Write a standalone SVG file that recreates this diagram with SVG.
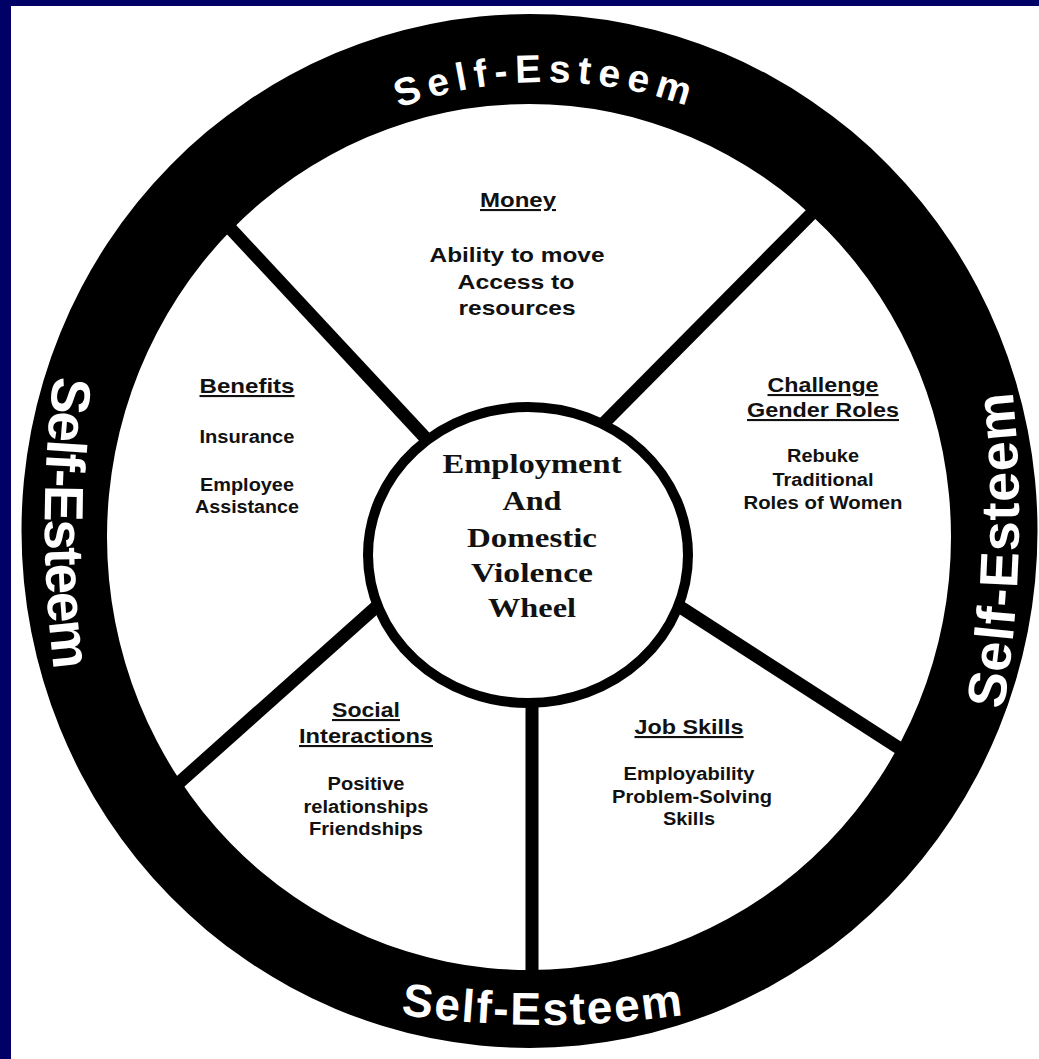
<svg xmlns="http://www.w3.org/2000/svg" width="1039" height="1059" viewBox="0 0 1039 1059">
  <style>
    .head { font-family: "Liberation Sans", Arial, sans-serif; font-weight: bold; font-size: 21px; fill: #111; text-anchor: middle; text-decoration: underline; }
    .item { font-family: "Liberation Sans", Arial, sans-serif; font-weight: bold; font-size: 18px; fill: #111; text-anchor: middle; }
    .big { font-size: 21px; }
    .hub { font-family: "Liberation Serif", "Times New Roman", serif; font-weight: bold; font-size: 28px; fill: #111; text-anchor: middle; }
    .rim { font-family: "Liberation Sans", Arial, sans-serif; font-weight: bold; fill: #fff; text-anchor: middle; }
    .spoke { stroke: #000; stroke-width: 13; stroke-linecap: butt; fill: none; }
  </style>
  <defs>
    <path id="arcTop" d="M 242 208 A 430 430 0 0 1 850 208"/>
    <path id="arcBottom" d="M 335 1003 A 1000 1000 0 0 0 751 1003"/>
    <path id="arcLeft" d="M 63 314 A 1200 1200 0 0 0 63 730"/>
    <path id="arcRight" d="M 994 760 A 1200 1200 0 0 0 1006 340"/>
  </defs>

  <!-- page frame -->
  <rect x="0" y="0" width="1039" height="1059" fill="#000066"/>
  <rect x="11" y="6" width="1028" height="1053" fill="#fff"/>

  <!-- spokes between hub and rim -->
  <g id="connectors">
    <line class="spoke" x1="216" y1="213" x2="432" y2="445"/>
    <line class="spoke" x1="830" y1="195" x2="603" y2="424"/>
    <line class="spoke" x1="144" y1="814" x2="385" y2="599"/>
    <line class="spoke" x1="532" y1="690" x2="532" y2="995"/>
    <line class="spoke" x1="916" y1="759" x2="671" y2="601"/>
  </g>

  <!-- outer rim -->
  <g id="rim">
    <path fill="#000" fill-rule="evenodd"
          d="M 21.5 531 A 508 517 0 1 0 1037.5 531 A 508 517 0 1 0 21.5 531 Z
             M 107 537 A 422 433 0 1 0 951 537 A 422 433 0 1 0 107 537 Z"/>
    <text class="rim" font-size="39" letter-spacing="7"><textPath href="#arcTop" startOffset="50%">Self-Esteem</textPath></text>
    <text class="rim" font-size="46" letter-spacing="2"><textPath href="#arcBottom" startOffset="50%">Self-Esteem</textPath></text>
    <text class="rim" font-size="55" letter-spacing="-2"><textPath href="#arcLeft" startOffset="50%">Self-Esteem</textPath></text>
    <text class="rim" font-size="54" letter-spacing="1"><textPath href="#arcRight" startOffset="50%">Self-Esteem</textPath></text>
  </g>

  <!-- hub -->
  <g id="hub">
    <ellipse cx="528" cy="555" rx="160" ry="148" fill="#fff" stroke="#000" stroke-width="10"/>
    <text class="hub" x="532" y="473" textLength="179" lengthAdjust="spacingAndGlyphs">Employment</text>
    <text class="hub" x="532" y="510" textLength="59" lengthAdjust="spacingAndGlyphs">And</text>
    <text class="hub" x="532" y="547" textLength="130" lengthAdjust="spacingAndGlyphs">Domestic</text>
    <text class="hub" x="532" y="582" textLength="122" lengthAdjust="spacingAndGlyphs">Violence</text>
    <text class="hub" x="532" y="617" textLength="88" lengthAdjust="spacingAndGlyphs">Wheel</text>
  </g>

  <!-- sectors -->
  <g id="money">
    <text class="head" x="518" y="207" textLength="76" lengthAdjust="spacingAndGlyphs">Money</text>
    <text class="item big" x="517" y="262" textLength="175" lengthAdjust="spacingAndGlyphs">Ability to move</text>
    <text class="item big" x="516" y="289" textLength="117" lengthAdjust="spacingAndGlyphs">Access to</text>
    <text class="item big" x="517" y="315" textLength="117" lengthAdjust="spacingAndGlyphs">resources</text>
  </g>

  <g id="benefits">
    <text class="head" x="247" y="393" textLength="95" lengthAdjust="spacingAndGlyphs">Benefits</text>
    <text class="item" x="247" y="443" textLength="95" lengthAdjust="spacingAndGlyphs">Insurance</text>
    <text class="item" x="247" y="491" textLength="94" lengthAdjust="spacingAndGlyphs">Employee</text>
    <text class="item" x="247" y="513" textLength="104" lengthAdjust="spacingAndGlyphs">Assistance</text>
  </g>

  <g id="gender-roles">
    <text class="head" x="823" y="392" textLength="111" lengthAdjust="spacingAndGlyphs">Challenge</text>
    <text class="head" x="823" y="417" textLength="152" lengthAdjust="spacingAndGlyphs">Gender Roles</text>
    <text class="item" x="823" y="462" textLength="72" lengthAdjust="spacingAndGlyphs">Rebuke</text>
    <text class="item" x="823" y="486" textLength="101" lengthAdjust="spacingAndGlyphs">Traditional</text>
    <text class="item" x="823" y="509" textLength="159" lengthAdjust="spacingAndGlyphs">Roles of Women</text>
  </g>

  <g id="social">
    <text class="head" x="366" y="717" textLength="68" lengthAdjust="spacingAndGlyphs">Social</text>
    <text class="head" x="366" y="743" textLength="134" lengthAdjust="spacingAndGlyphs">Interactions</text>
    <text class="item" x="366" y="790" textLength="77" lengthAdjust="spacingAndGlyphs">Positive</text>
    <text class="item" x="366" y="813" textLength="125" lengthAdjust="spacingAndGlyphs">relationships</text>
    <text class="item" x="366" y="835" textLength="114" lengthAdjust="spacingAndGlyphs">Friendships</text>
  </g>

  <g id="job-skills">
    <text class="head" x="689" y="734" textLength="109" lengthAdjust="spacingAndGlyphs">Job Skills</text>
    <text class="item" x="689" y="780" textLength="131" lengthAdjust="spacingAndGlyphs">Employability</text>
    <text class="item" x="692" y="803" textLength="160" lengthAdjust="spacingAndGlyphs">Problem-Solving</text>
    <text class="item" x="689" y="825" textLength="52" lengthAdjust="spacingAndGlyphs">Skills</text>
  </g>
</svg>
